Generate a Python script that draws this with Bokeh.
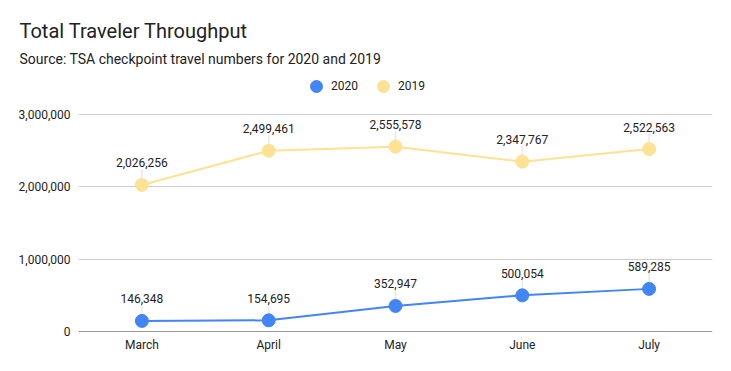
from bokeh.plotting import figure
from bokeh.models import (ColumnDataSource, Range1d, FactorRange, LabelSet, Title,
                          Legend, LegendItem, NumeralTickFormatter, FixedTicker, Span)
from bokeh.core.properties import value
from bokeh.embed import file_html
from bokeh.resources import INLINE

months = ["March", "April", "May", "June", "July"]
y2020 = [146348, 154695, 352947, 500054, 589285]
y2019 = [2026256, 2499461, 2555578, 2347767, 2522563]
y_ticks = [0, 1000000, 2000000, 3000000]

BLUE = "#4285F4"
YELLOW = "#FDE293"
FONT = "Roboto"

# frame extends above the 3,000,000 gridline to host the legend
Y_MAX = 3000000 * 261 / 217

p = figure(width=731, height=371, x_range=FactorRange(*months), y_range=Range1d(0, Y_MAX),
           output_backend="svg", toolbar_location=None,
           min_border_left=78, min_border_right=19, min_border_top=70, min_border_bottom=40)
p.outline_line_color = None
p.background_fill_color = "white"
p.border_fill_color = "white"

p.xgrid.grid_line_color = None
p.ygrid.grid_line_color = "#CCCCCC"
p.ygrid.ticker = FixedTicker(ticks=y_ticks)

p.yaxis.ticker = FixedTicker(ticks=y_ticks)
p.yaxis.formatter = NumeralTickFormatter(format="0,0")
p.yaxis.axis_line_color = None
p.yaxis.major_tick_line_color = None
p.yaxis.minor_tick_line_color = None
p.yaxis.major_tick_out = 0
p.yaxis.minor_tick_out = 0
p.yaxis.major_label_text_font = FONT
p.yaxis.major_label_text_font_size = "12px"
p.yaxis.major_label_text_color = "#222222"
p.yaxis.major_label_standoff = 8

p.xaxis.axis_line_color = None
p.xaxis.major_tick_line_color = None
p.xaxis.minor_tick_line_color = None
p.xaxis.major_tick_out = 0
p.xaxis.minor_tick_out = 0
p.xaxis.major_label_text_font = FONT
p.xaxis.major_label_text_font_size = "12px"
p.xaxis.major_label_text_color = "#222222"
p.xaxis.major_label_standoff = 6

p.add_layout(Span(location=0, dimension="width", line_color="#333333", line_width=1.2))

for vals in [y2019, y2020]:
    src = ColumnDataSource(dict(x=months, y=vals, top=[v + 220000 for v in vals]))
    p.segment(x0="x", y0="y", x1="x", y1="top", source=src, line_color="#E8E8E8", line_width=1.5)

r_pts = {}
for vals, color, name in [(y2019, YELLOW, "2019"), (y2020, BLUE, "2020")]:
    src = ColumnDataSource(dict(x=months, y=vals, lab=[f"{v:,}" for v in vals]))
    p.line("x", "y", source=src, line_color=color, line_width=2)
    c = p.scatter("x", "y", source=src, size=13, fill_color=color, line_color=color)
    r_pts[name] = c
    labels = LabelSet(x="x", y="y", text="lab", source=src, y_offset=22,
                      text_align="center", text_baseline="middle",
                      text_font=value(FONT), text_font_size="12px", text_color="#222222",
                      background_fill_color="white")
    p.add_layout(labels)

legend = Legend(items=[LegendItem(label="2020", renderers=[r_pts["2020"]]),
                       LegendItem(label="2019", renderers=[r_pts["2019"]])],
                orientation="horizontal", location=(223, 230),
                label_text_font=FONT, label_text_font_size="12px", label_text_color="#222222",
                border_line_color=None, background_fill_alpha=0,
                glyph_width=30, glyph_height=30, spacing=10, padding=0, margin=0,
                label_standoff=0)
p.add_layout(legend)

p.add_layout(Title(text="Source: TSA checkpoint travel numbers for 2020 and 2019",
                   text_font=FONT, text_font_size="14px", text_font_style="normal",
                   text_color="#222222", offset=-59, standoff=8), "above")
p.add_layout(Title(text="Total Traveler Throughput",
                   text_font=FONT, text_font_size="20px", text_font_style="normal",
                   text_color="#222222", offset=-59, standoff=3), "above")

open("out.html", "w").write(file_html(p, INLINE))
